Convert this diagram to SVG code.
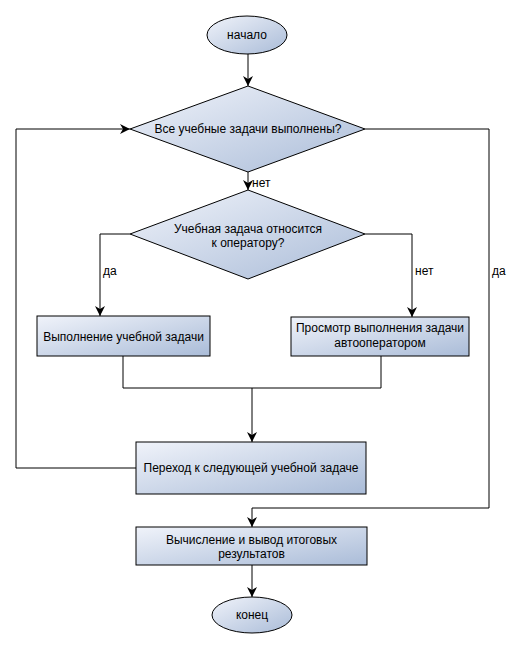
<svg xmlns="http://www.w3.org/2000/svg" width="524" height="651" viewBox="0 0 524 651">
<defs>
<linearGradient id="g" x1="0" y1="0" x2="1" y2="1">
<stop offset="0" stop-color="#f0f3fa"/>
<stop offset="1" stop-color="#aabcd8"/>
</linearGradient>
<marker id="a" viewBox="0 0 10 10" refX="10" refY="5" markerWidth="10" markerHeight="10" markerUnits="userSpaceOnUse" orient="auto">
<path d="M0,0 L10,5 L0,10 L3,5 Z" fill="#000"/>
</marker>
<style>
.s{fill:url(#g);stroke:#000;stroke-width:1}
.c{fill:none;stroke:#000;stroke-width:1}
text{font-family:"Liberation Sans",Arial,sans-serif;font-size:12px;fill:#000}
.m{text-anchor:middle}
</style>
</defs>
<rect width="524" height="651" fill="#fff"/>
<g id="connectors">
<path class="c" d="M248,54 V86" marker-end="url(#a)"/>
<path class="c" d="M248,172 V190" marker-end="url(#a)"/>
<path class="c" d="M130,234 H100 V316" marker-end="url(#a)"/>
<path class="c" d="M365,234 H412 V317" marker-end="url(#a)"/>
<path class="c" d="M123,356 V388 H381 V356"/>
<path class="c" d="M252,388 V442" marker-end="url(#a)"/>
<path class="c" d="M136,468 H16 V129 H130" marker-end="url(#a)"/>
<path class="c" d="M365,129 H489 V508 H252 V527" marker-end="url(#a)"/>
<path class="c" d="M252,565 V597" marker-end="url(#a)"/>
<text x="252" y="187">нет</text>
<text x="103" y="275">да</text>
<text x="415" y="275">нет</text>
<text x="492" y="275">да</text>
</g>
<g id="start">
<ellipse class="s" cx="247" cy="35" rx="40" ry="19"/>
<text class="m" x="247" y="39">начало</text>
</g>
<g id="dec1">
<polygon class="s" points="248,86 365,129 248,172 130,129"/>
<text class="m" x="248" y="133">Все учебные задачи выполнены?</text>
</g>
<g id="dec2">
<polygon class="s" points="248,190 365,234 248,279 130,234"/>
<text class="m" x="248" y="233">Учебная задача относится</text>
<text class="m" x="248" y="247">к оператору?</text>
</g>
<g id="box1">
<rect class="s" x="37" y="316" width="173" height="40"/>
<text class="m" x="123.5" y="341">Выполнение учебной задачи</text>
</g>
<g id="box2">
<rect class="s" x="291" y="317" width="178" height="39"/>
<text class="m" x="380" y="332">Просмотр выполнения задачи</text>
<text class="m" x="380" y="347">автооператором</text>
</g>
<g id="box3">
<rect class="s" x="136" y="442" width="230" height="52"/>
<text class="m" x="251" y="472">Переход к следующей учебной задаче</text>
</g>
<g id="box4">
<rect class="s" x="136" y="527" width="231" height="38"/>
<text class="m" x="251.5" y="544">Вычисление и вывод итоговых</text>
<text class="m" x="251.5" y="558">результатов</text>
</g>
<g id="end">
<ellipse class="s" cx="252" cy="615" rx="40" ry="18"/>
<text class="m" x="252" y="619">конец</text>
</g>
</svg>
